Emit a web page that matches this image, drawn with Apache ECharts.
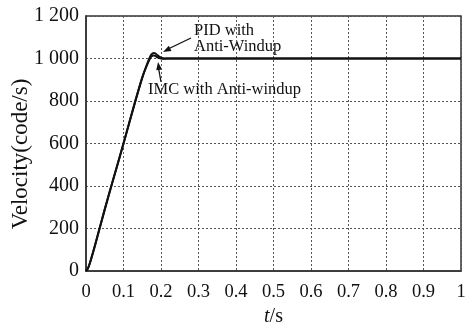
<!DOCTYPE html>
<html><head><meta charset="utf-8">
<script src="https://cdn.jsdelivr.net/npm/echarts@6/dist/echarts.min.js"></script>
<style>html,body{margin:0;padding:0;background:#fff}#c{width:466px;height:325px}</style>
</head><body><div id="c"></div>
<script>
const times = [0, 0.005, 0.01, 0.02, 0.03, 0.05, 0.07, 0.1, 0.13, 0.15, 0.16, 0.17, 0.175, 0.18, 0.185, 0.19, 0.2, 0.21, 0.22, 0.25, 0.3, 0.4, 0.5, 0.6, 0.7, 0.8, 0.9, 1.0];
const pidValues = [0, 12, 35, 95, 160, 290, 415, 600, 790, 910, 960, 1005, 1020, 1026, 1024, 1016, 1004, 1000, 1000, 1000, 1000, 1000, 1000, 1000, 1000, 1000, 1000, 1000];
const imcValues = [0, 12, 35, 95, 160, 290, 415, 600, 790, 910, 958, 998, 1010, 1014, 1012, 1006, 1000, 999, 1000, 1000, 1000, 1000, 1000, 1000, 1000, 1000, 1000, 1000];
const xTicks = [0, 0.1, 0.2, 0.3, 0.4, 0.5, 0.6, 0.7, 0.8, 0.9, 1];
const yTicks = [0, 200, 400, 600, 800, 1000, 1200];

const font = '"Liberation Serif", "Times New Roman", serif';
const chart = echarts.init(document.getElementById('c'), null, {renderer: 'canvas'});
const pair = (xs, ys) => xs.map((x, i) => [x, ys[i]]);
const arrowHead = (x1, y1, x2, y2, len, w) => {
  const dx = x2 - x1, dy = y2 - y1, L = Math.hypot(dx, dy);
  const ux = dx / L, uy = dy / L;
  const bx = x2 - ux * len, by = y2 - uy * len;
  return [[x2, y2], [bx - uy * w, by + ux * w], [bx + uy * w, by - ux * w]];
};
chart.setOption({
  animation: false,
  backgroundColor: '#fff',
  grid: {left: 86, right: 5, top: 16, bottom: 54, show: true, borderColor: '#333', borderWidth: 1.5,
    containLabel: false, outerBoundsMode: 'none'},
  xAxis: {
    type: 'value', min: 0, max: 1, interval: 0.1,
    name: '{i|t}/s', nameLocation: 'middle', nameGap: 36,
    nameTextStyle: {fontFamily: font, fontSize: 20, color: '#111',
      rich: {i: {fontFamily: font, fontSize: 20, fontStyle: 'italic', color: '#111'}}},
    axisLine: {show: true, lineStyle: {color: '#333', width: 1.5}},
    axisTick: {show: false},
    axisLabel: {fontFamily: font, fontSize: 18.5, color: '#111', margin: 12,
      formatter: v => { const s = xTicks.find(t => Math.abs(t - v) < 1e-9); return s === undefined ? '' : String(+s.toFixed(1)); }},
    splitLine: {show: true, lineStyle: {color: '#555', type: [2, 2], width: 1}}
  },
  yAxis: {
    type: 'value', min: 0, max: 1200, interval: 200,
    axisLine: {show: true, lineStyle: {color: '#333', width: 1.5}},
    axisTick: {show: false},
    axisLabel: {fontFamily: font, fontSize: 20, color: '#111', margin: 7,
      formatter: v => v >= 1000 ? Math.floor(v / 1000) + ' ' + String(v % 1000).padStart(3, '0') : String(v)},
    splitLine: {show: true, lineStyle: {color: '#555', type: [2, 2], width: 1}}
  },
  series: [
    {name: 'PID with Anti-Windup', type: 'line', data: pair(times, pidValues), showSymbol: false, smooth: 0.2,
     lineStyle: {color: '#111', width: 2}},
    {name: 'IMC with Anti-windup', type: 'line', data: pair(times, imcValues), showSymbol: false, smooth: 0.2,
     lineStyle: {color: '#111', width: 2}}
  ],
  graphic: [
    {type: 'text', x: 21, y: 154, rotation: Math.PI / 2,
     style: {text: 'Velocity(code/s)', font: '23px ' + font, fill: '#111', align: 'center', verticalAlign: 'middle'}},
    {type: 'text', left: 194, top: 22, style: {text: 'PID with\nAnti-Windup', font: '16.5px ' + font, fill: '#111', lineHeight: 16}},
    {type: 'text', left: 148, top: 81, style: {text: 'IMC with Anti-windup', font: '16.5px ' + font, fill: '#111'}},
    {type: 'line', shape: {x1: 191, y1: 38, x2: 166, y2: 50}, style: {stroke: '#111', lineWidth: 1.3}},
    {type: 'polygon', shape: {points: arrowHead(191, 38, 163, 52, 8, 3)}, style: {fill: '#111'}},
    {type: 'line', shape: {x1: 161, y1: 82, x2: 158.5, y2: 68}, style: {stroke: '#111', lineWidth: 1.3}},
    {type: 'polygon', shape: {points: arrowHead(161, 82, 158, 62, 8, 3)}, style: {fill: '#111'}}
  ]
});
</script></body></html>
